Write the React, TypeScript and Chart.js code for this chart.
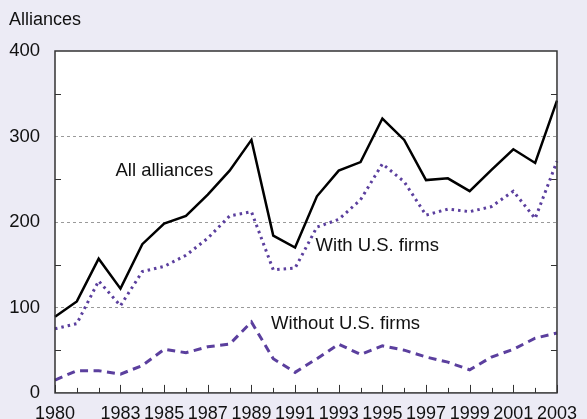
import React, { useEffect, useRef } from "react";
import { Chart, registerables } from "chart.js";

Chart.register(...registerables);

const years = [
  "1980", "1981", "1982", "1983", "1984", "1985", "1986", "1987", "1988", "1989", "1990", "1991",
  "1992", "1993", "1994", "1995", "1996", "1997", "1998", "1999", "2000", "2001", "2002", "2003",
];
const shownYearLabels = [
  "1980", "1983", "1985", "1987", "1989", "1991", "1993", "1995", "1997", "1999", "2001", "2003",
];

const allAlliances = [
  89, 107, 157, 122, 174, 198, 207, 232, 260, 296, 184, 170,
  230, 260, 270, 321, 296, 249, 251, 236, 261, 285, 269, 342,
];
const withUSFirms = [
  75, 81, 131, 102, 142, 148, 161, 181, 207, 212, 144, 146,
  194, 203, 226, 268, 247, 208, 215, 212, 218, 236, 204, 271,
];
const withoutUSFirms = [
  15, 26, 26, 22, 32, 51, 47, 54, 57, 83, 40, 24,
  40, 57, 45, 55, 50, 42, 36, 27, 42, 51, 64, 70,
];

const yMajorTicks = [0, 100, 200, 300, 400];
const yGridValues = [100, 200, 300];
const yMinorTicks = [50, 150, 250, 350];

const seriesLabels = [
  { text: "All alliances", x: 2.77, y: 260 },
  { text: "With U.S. firms", x: 11.94, y: 172 },
  { text: "Without U.S. firms", x: 9.9, y: 81 },
];

const FONT = "'Liberation Sans', Arial, Helvetica, sans-serif";
const PURPLE = "#5b3f9e";

const framePlugin = {
  id: "framePlugin",
  beforeDatasetsDraw(chart: any) {
    const { ctx, chartArea } = chart;
    const { left, right, top, bottom } = chartArea;
    const xs = chart.scales.x;
    const ys = chart.scales.y;
    ctx.save();
    ctx.fillStyle = "#ffffff";
    ctx.fillRect(left, top, right - left, bottom - top);
    // dashed grid
    ctx.strokeStyle = "#9a9a9a";
    ctx.lineWidth = 1;
    ctx.setLineDash([3, 3]);
    yGridValues.forEach((v) => {
      const y = Math.round(ys.getPixelForValue(v)) + 0.5;
      ctx.beginPath();
      ctx.moveTo(left, y);
      ctx.lineTo(right, y);
      ctx.stroke();
    });
    ctx.setLineDash([]);
    // inward ticks
    ctx.strokeStyle = "#333333";
    ctx.lineWidth = 1;
    yMinorTicks.forEach((v) => {
      const y = Math.round(ys.getPixelForValue(v)) + 0.5;
      ctx.beginPath();
      ctx.moveTo(left, y);
      ctx.lineTo(left + 6, y);
      ctx.moveTo(right, y);
      ctx.lineTo(right - 6, y);
      ctx.stroke();
    });
    years.forEach((yr, i) => {
      const x = Math.round(xs.getPixelForValue(i)) + 0.5;
      const len = shownYearLabels.includes(yr) ? 8 : 5;
      ctx.beginPath();
      ctx.moveTo(x, bottom);
      ctx.lineTo(x, bottom - len);
      ctx.stroke();
    });
    ctx.restore();
  },
  afterDatasetsDraw(chart: any) {
    const { ctx, chartArea } = chart;
    const { left, right, top, bottom } = chartArea;
    const xs = chart.scales.x;
    const ys = chart.scales.y;
    ctx.save();
    ctx.strokeStyle = "#333333";
    ctx.lineWidth = 1.5;
    ctx.strokeRect(left, top, right - left, bottom - top);
    ctx.fillStyle = "#111111";
    ctx.font = `18.5px ${FONT}`;
    ctx.textBaseline = "middle";
    ctx.textAlign = "left";
    seriesLabels.forEach((l) => {
      ctx.fillText(l.text, xs.getPixelForValue(l.x), ys.getPixelForValue(l.y));
    });
    ctx.font = `18px ${FONT}`;
    ctx.fillText("Alliances", 9, 20);
    ctx.restore();
  },
};

export default function App() {
  const canvasRef = useRef<HTMLCanvasElement | null>(null);

  useEffect(() => {
    if (!canvasRef.current) return;
    Chart.defaults.font.family = FONT;
    const chart = new Chart(canvasRef.current, {
      type: "line",
      data: {
        labels: years,
        datasets: [
          {
            label: "All alliances",
            data: allAlliances,
            borderColor: "#000000",
            borderWidth: 2.5,
            pointRadius: 0,
            tension: 0,
            borderJoinStyle: "miter",
          },
          {
            label: "With U.S. firms",
            data: withUSFirms,
            borderColor: PURPLE,
            borderWidth: 3,
            borderDash: [2.5, 4],
            pointRadius: 0,
            tension: 0,
          },
          {
            label: "Without U.S. firms",
            data: withoutUSFirms,
            borderColor: PURPLE,
            borderWidth: 3,
            borderDash: [8, 5.5],
            pointRadius: 0,
            tension: 0,
          },
        ],
      },
      options: {
        animation: false,
        responsive: false,
        maintainAspectRatio: false,
        layout: { padding: { top: 51, right: 20, bottom: 0, left: 0 } },
        plugins: {
          legend: { display: false },
          title: { display: false },
          tooltip: { enabled: false },
        },
        scales: {
          x: {
            type: "category",
            offset: false,
            grid: { display: false, drawTicks: false },
            border: { display: false },
            ticks: {
              autoSkip: false,
              maxRotation: 0,
              minRotation: 0,
              padding: 10,
              color: "#111111",
              font: { size: 18, family: FONT },
              callback: (_v: any, i: number) =>
                shownYearLabels.includes(years[i]) ? years[i] : "",
            },
            afterFit: (s: any) => {
              s.height = 26;
            },
          },
          y: {
            min: 0,
            max: 400,
            afterBuildTicks: (s: any) => {
              s.ticks = yMajorTicks.map((v) => ({ value: v }));
            },
            grid: { display: false, drawTicks: false },
            border: { display: false },
            ticks: {
              padding: 15,
              color: "#111111",
              font: { size: 18.5, family: FONT },
            },
            afterFit: (s: any) => {
              s.width = 55;
            },
          },
        },
      },
      plugins: [framePlugin],
    } as any);
    return () => chart.destroy();
  }, []);

  return (
    <div
      style={{
        position: "fixed",
        left: 0,
        top: 0,
        width: 587,
        height: 419,
        background: "#ecebf5",
      }}
    >
      <canvas ref={canvasRef} width={587} height={419} style={{ display: "block" }} />
    </div>
  );
}
